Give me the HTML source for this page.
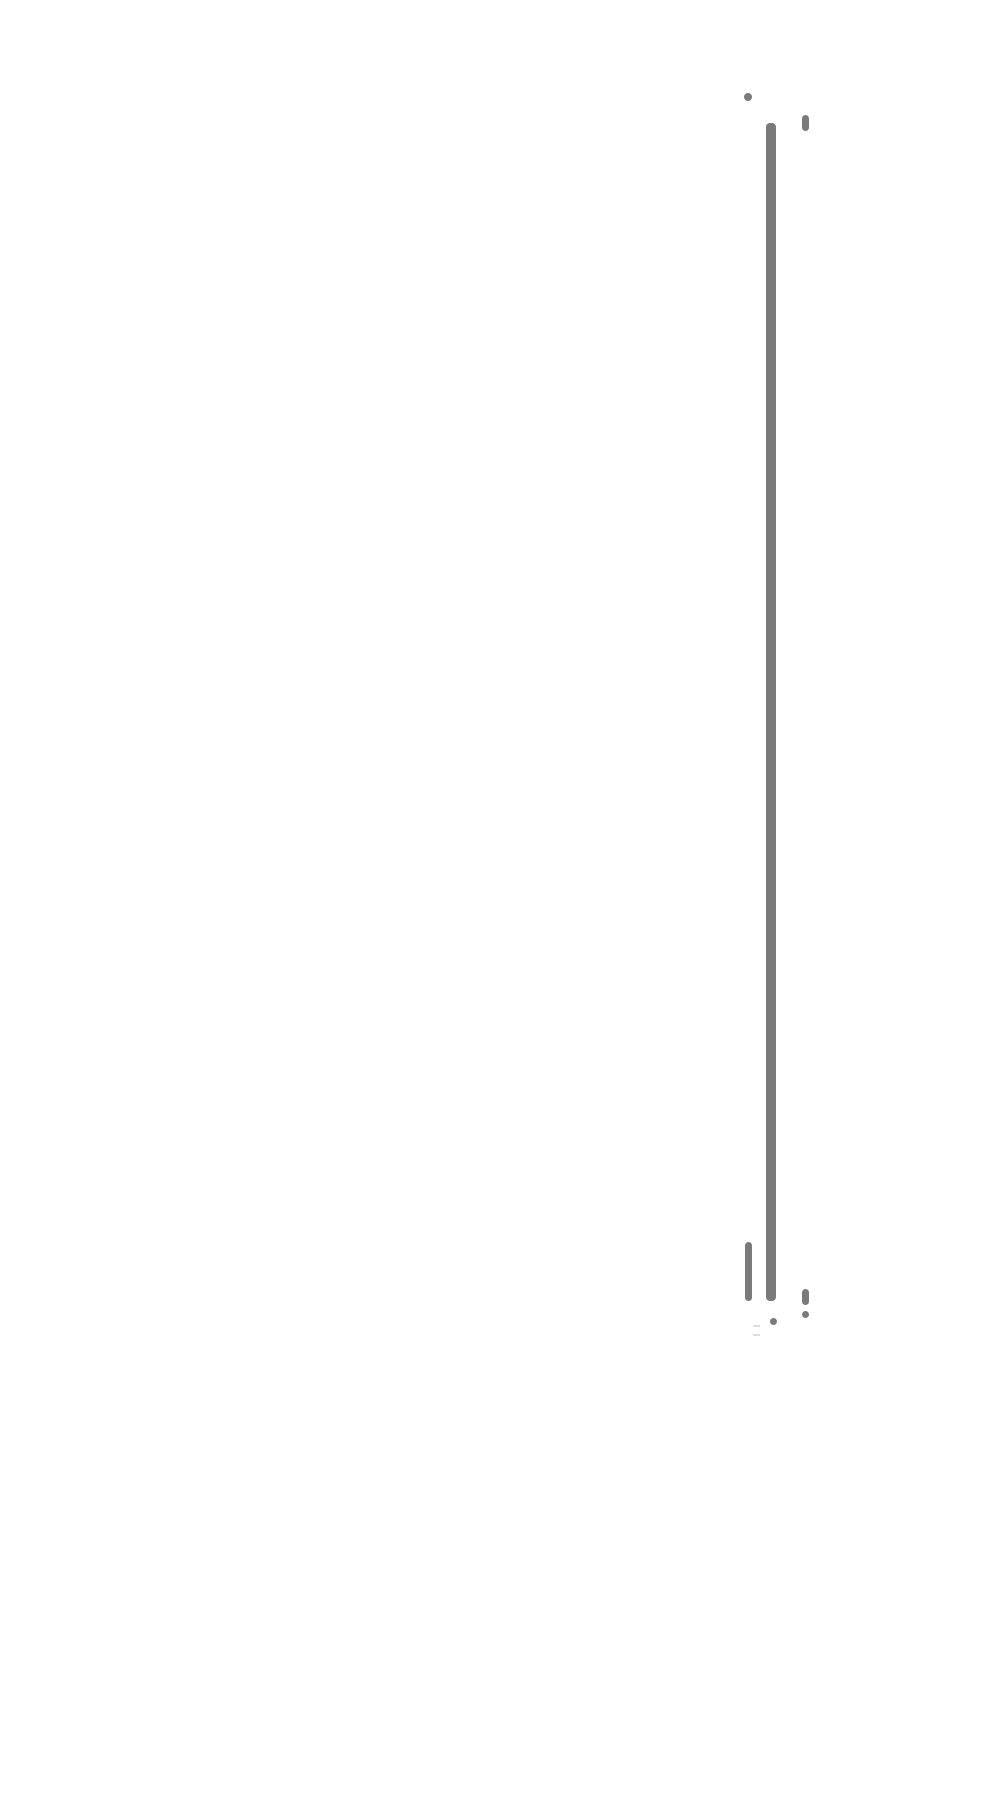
<!DOCTYPE html>
<html><head><meta charset="utf-8"><style>
html,body{margin:0;padding:0;background:#fff;width:1000px;height:1819px;overflow:hidden;position:relative;font-family:"Liberation Sans",sans-serif}
.b{position:absolute;background:#7a7a7a;border-radius:4px}
</style></head><body>
<div class="b" style="left:744px;top:93px;width:8px;height:8px;border-radius:50%"></div>
<div class="b" style="left:802px;top:115px;width:7px;height:16px"></div>
<div class="b" style="left:766px;top:123px;width:10px;height:1178px"></div>
<div class="b" style="left:745px;top:1242px;width:7px;height:59px"></div>
<div class="b" style="left:802px;top:1289px;width:7px;height:16px"></div>
<div class="b" style="left:802px;top:1311px;width:7px;height:7px;border-radius:50%"></div>
<div class="b" style="left:770px;top:1318px;width:7px;height:7px;border-radius:50%"></div>
<div style="position:absolute;left:753px;top:1325px;width:7px;height:2px;background:#ddd"></div>
<div style="position:absolute;left:753px;top:1334px;width:7px;height:2px;background:#ddd"></div>
</body></html>
